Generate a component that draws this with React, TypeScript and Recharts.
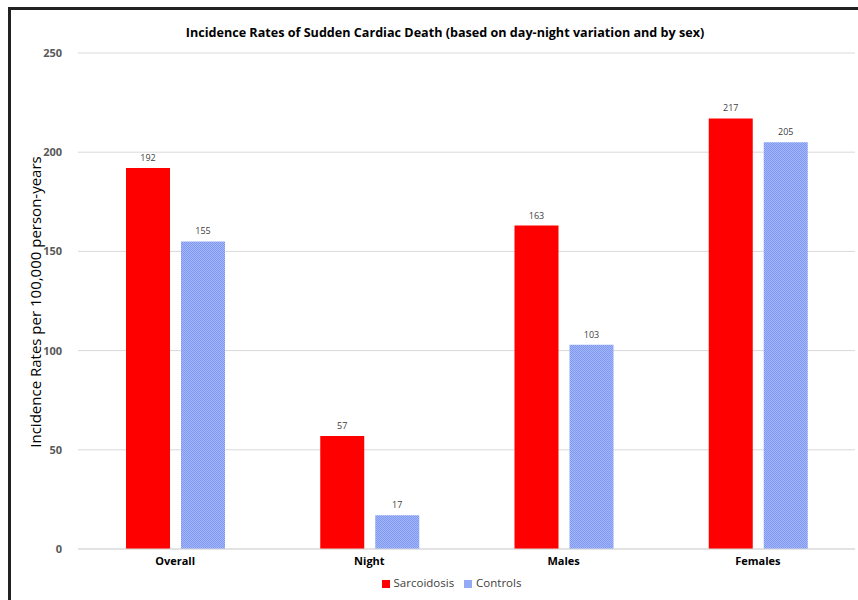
import React from 'react';
import { Bar, BarChart, CartesianGrid, LabelList, Legend, XAxis, YAxis } from 'recharts';

const categories = ['Overall', 'Night', 'Males', 'Females'];
const sarcoidosis = [192, 57, 163, 217];
const controls = [155, 17, 103, 205];
const yTicks = [0, 50, 100, 150, 200, 250];
const seriesOrder = ['Sarcoidosis', 'Controls'];

const data = categories.map((name, i) => ({ name, sarcoidosis: sarcoidosis[i], controls: controls[i] }));

const font = '"Open Sans", "Noto Sans", sans-serif';

export default function App() {
  return (
    <div style={{ position: 'absolute', left: 8, top: 6, width: 852, height: 594, fontFamily: font }}>
      <div style={{ position: 'absolute', left: 0, top: 1, width: 852, height: 3, background: '#222', zIndex: 5 }} />
      <div style={{ position: 'absolute', left: 0, top: 1, width: 3, height: 594, background: '#222', zIndex: 5 }} />
      <BarChart width={852} height={594} data={data} margin={{ top: 47, right: 5, left: 10, bottom: 5 }} barSize={44} barGap={11}>
        <defs>
          <pattern id="chk" width="2" height="2" patternUnits="userSpaceOnUse">
            <rect width="2" height="2" fill="#a6b8f8" />
            <rect width="1" height="1" fill="#7c98f3" />
            <rect x="1" y="1" width="1" height="1" fill="#7c98f3" />
          </pattern>
        </defs>
        <CartesianGrid vertical={false} stroke="#d9d9d9" />
        <XAxis dataKey="name" height={26} tickLine={false} axisLine={{ stroke: '#d9d9d9' }} tick={{ fontSize: 11, fontWeight: 700, fill: '#000', fontFamily: font }} />
        <YAxis width={60} domain={[0, 250]} ticks={yTicks} tickLine={false} axisLine={false} tickMargin={10} tick={{ fontSize: 11, fontWeight: 700, fill: '#595959', fontFamily: font }} />
        <Legend
          verticalAlign="bottom"
          height={20}
          iconType="square"
          iconSize={8}
          itemSorter={(item: any) => seriesOrder.indexOf(item.value)}
          wrapperStyle={{ fontSize: 11.5, fontFamily: font, left: 30 }}
          formatter={(v) => <span style={{ color: '#404040' }}>{v}</span>}
        />
        <Bar dataKey="sarcoidosis" name="Sarcoidosis" fill="#ff0000" isAnimationActive={false}>
          <LabelList dataKey="sarcoidosis" position="top" offset={7} style={{ fontSize: 9, fill: '#404040', fontFamily: font }} />
        </Bar>
        <Bar dataKey="controls" name="Controls" fill="url(#chk)" isAnimationActive={false}>
          <LabelList dataKey="controls" position="top" offset={7} style={{ fontSize: 9, fill: '#404040', fontFamily: font }} />
        </Bar>
      </BarChart>
      <div style={{ position: 'absolute', left: 0, width: 874, top: 18, textAlign: 'center', fontWeight: 700, fontSize: 12.6, color: '#000' }}>
        Incidence Rates of Sudden Cardiac Death (based on day-night variation and by sex)
      </div>
      <div style={{ position: 'absolute', left: 27, top: 296, width: 0, height: 0 }}>
        <div style={{ position: 'absolute', transform: 'translate(-50%, -50%) rotate(-90deg)', whiteSpace: 'nowrap', fontSize: 15, color: '#000' }}>
          Incidence Rates per 100,000 person-years
        </div>
      </div>
    </div>
  );
}
